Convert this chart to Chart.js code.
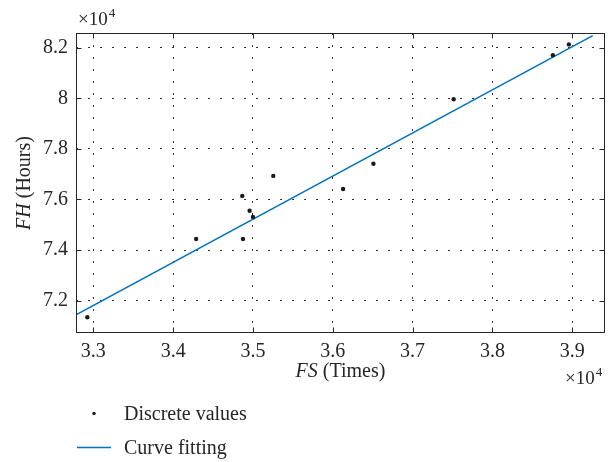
<!DOCTYPE html>
<html>
<head>
<meta charset="utf-8">
<script src="https://cdn.jsdelivr.net/npm/chart.js@4/dist/chart.umd.min.js"></script>
<style>
  body { margin: 0; background: #fff; }
</style>
</head>
<body>
<canvas id="grafico" width="608" height="462"></canvas>
<script>
// FS (Times) vs FH (Hours), raw values (axes shown in units of 10^4)
const discreteX = [32925, 34288, 34866, 34875, 34958, 35000, 35254, 36129, 36509, 37514, 38757, 38957];
const discreteY = [71340, 74435, 76140, 74435, 75550, 75310, 76930, 76410, 77410, 79960, 81700, 82130];
const fitX = [32783, 39256];
const fitY = [71435, 82474];
const xTickValues = [33000, 34000, 35000, 36000, 37000, 38000, 39000];
const yTickValues = [72000, 74000, 76000, 78000, 80000, 82000];
const legendLabels = ['Discrete values', 'Curve fitting'];

const SERIF = 'Liberation Serif';
const INK = '#262626';

function toPoints(xs, ys) {
    return xs.map((v, i) => ({ x: v, y: ys[i] }));
}

function fmt(v) {
    return String(+(v / 1e4).toFixed(1));
}

// frame, inner ticks, axis titles, exponent notes and legend
const extras = {
    id: 'extras',
    afterDraw(chart) {
        const { ctx, chartArea: a, scales: { x, y } } = chart;
        ctx.save();
        ctx.strokeStyle = INK;
        ctx.lineWidth = 1;
        const L = a.left + 0.5, R = a.right - 0.5, T = a.top + 0.5, B = a.bottom - 0.5;
        ctx.strokeRect(L, T, R - L, B - T);
        ctx.beginPath();
        xTickValues.forEach(v => {
            const px = Math.round(x.getPixelForValue(v)) + 0.5;
            ctx.moveTo(px, B); ctx.lineTo(px, B - 5);
            ctx.moveTo(px, T); ctx.lineTo(px, T + 5);
        });
        yTickValues.forEach(v => {
            const py = Math.round(y.getPixelForValue(v)) + 0.5;
            ctx.moveTo(L, py); ctx.lineTo(L + 5, py);
            ctx.moveTo(R, py); ctx.lineTo(R - 5, py);
        });
        ctx.stroke();

        ctx.fillStyle = INK;
        ctx.textBaseline = 'alphabetic';

        // x10^4 notes
        function expo(x0, yb) {
            ctx.font = '19px ' + SERIF;
            ctx.textAlign = 'left';
            ctx.fillText('\u00d710', x0, yb);
            const w = ctx.measureText('\u00d710').width;
            ctx.font = '13px ' + SERIF;
            ctx.fillText('4', x0 + w + 1, yb - 8);
        }
        expo(78, 25);
        expo(565, 384);

        // axis titles, italic symbol + plain unit
        function mixed(parts, cx, cy) {
            let total = 0;
            parts.forEach(p => { ctx.font = p[1] + ' 20px ' + SERIF; total += ctx.measureText(p[0]).width; });
            let xx = cx - total / 2;
            ctx.textAlign = 'left';
            parts.forEach(p => {
                ctx.font = p[1] + ' 20px ' + SERIF;
                ctx.fillText(p[0], xx, cy);
                xx += ctx.measureText(p[0]).width;
            });
        }
        mixed([['FS', 'italic'], [' (Times)', 'normal']], (a.left + a.right) / 2, 377);
        ctx.save();
        ctx.translate(30, (a.top + a.bottom) / 2);
        ctx.rotate(-Math.PI / 2);
        mixed([['FH', 'italic'], [' (Hours)', 'normal']], 0, 0);
        ctx.restore();

        // legend
        ctx.font = '20px ' + SERIF;
        ctx.textAlign = 'left';
        ctx.beginPath();
        ctx.arc(94, 413.5, 1.8, 0, Math.PI * 2);
        ctx.fill();
        ctx.fillText(legendLabels[0], 124, 420);
        ctx.strokeStyle = '#0072BD';
        ctx.lineWidth = 1.5;
        ctx.beginPath();
        ctx.moveTo(77, 447.5); ctx.lineTo(111, 447.5);
        ctx.stroke();
        ctx.fillText(legendLabels[1], 124, 454);
        ctx.restore();
    }
};

function carregarGrafico() {
    const grafico = document.getElementById('grafico');

    new Chart(grafico, {
        type: 'scatter',
        data: {
            datasets: [{
                label: legendLabels[0],
                data: toPoints(discreteX, discreteY),
                backgroundColor: '#1a1a1a',
                borderWidth: 0,
                pointRadius: 2.2,
                pointHoverRadius: 2.2
            }, {
                label: legendLabels[1],
                data: toPoints(fitX, fitY),
                showLine: true,
                borderColor: '#0072BD',
                borderWidth: 1.5,
                pointRadius: 0,
                pointHoverRadius: 0
            }]
        },
        options: {
            responsive: false,
            devicePixelRatio: 1,
            animation: false,
            events: [],
            layout: {
                padding: { left: 0, top: 33, right: 3, bottom: 0 }
            },
            plugins: {
                legend: { display: false },
                tooltip: { enabled: false }
            },
            scales: {
                x: {
                    type: 'linear',
                    min: 32783,
                    max: 39410,
                    afterBuildTicks: (scale) => { scale.ticks = xTickValues.map(v => ({ value: v })); },
                    afterFit: (scale) => { scale.height = 129; },
                    grid: { color: '#333', lineWidth: 1, drawTicks: false },
                    border: { display: false, dash: [2, 10] },
                    ticks: {
                        color: INK,
                        padding: 7,
                        maxRotation: 0,
                        autoSkip: false,
                        font: { family: SERIF, size: 20 },
                        callback: (v) => fmt(v)
                    }
                },
                y: {
                    type: 'linear',
                    min: 70720,
                    max: 82580,
                    afterBuildTicks: (scale) => { scale.ticks = yTickValues.map(v => ({ value: v })); },
                    afterFit: (scale) => { scale.width = 76; },
                    grid: { color: '#333', lineWidth: 1, drawTicks: false },
                    border: { display: false, dash: [2, 10] },
                    ticks: {
                        color: INK,
                        padding: 8,
                        autoSkip: false,
                        font: { family: SERIF, size: 20 },
                        callback: (v) => fmt(v)
                    }
                }
            }
        },
        plugins: [extras]
    });
}

carregarGrafico();
</script>
</body>
</html>
